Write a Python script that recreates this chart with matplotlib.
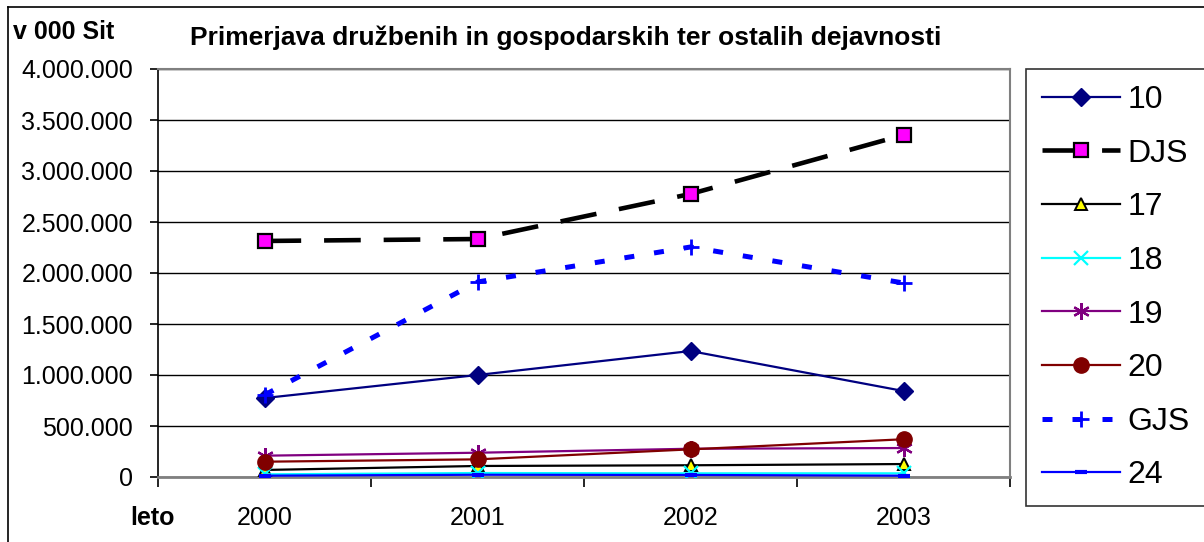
import matplotlib
matplotlib.use("Agg")
import matplotlib.pyplot as plt
from matplotlib.ticker import FuncFormatter, FixedLocator
from matplotlib.lines import Line2D

plt.rcParams['font.family'] = ['Liberation Sans', 'DejaVu Sans']

# data (v 000 Sit)
years = ['2000', '2001', '2002', '2003']
s10 = [774000, 1000000, 1235000, 843000]
djs = [2314000, 2333000, 2775000, 3353000]
s17 = [69000, 108000, 115000, 127000]
s18 = [26000, 39000, 36000, 36000]
s19 = [209000, 238000, 277000, 284000]
s20 = [150000, 173000, 271000, 370000]
gjs = [804000, 1912000, 2255000, 1902000]
s24 = [13000, 22000, 20000, 13000]

W, H = 1204, 542
fig = plt.figure(figsize=(W / 100, H / 100), dpi=100)
ax = fig.add_axes([158 / W, 1 - 477 / H, (1010 - 158) / W, (477 - 69) / H])

x = range(len(years))

ax.plot(x, s10, color='#000080', lw=1.6, marker='D', ms=9, mfc='#000080', mec='#000080', label='10', zorder=3)
ax.plot(x, djs, color='black', lw=3.3, dashes=(8, 5), marker='s', ms=10, mfc='#FF00FF', mec='black', mew=1.6, label='DJS', zorder=3)
ax.plot(x, s17, color='black', lw=1.6, marker='^', ms=9, mfc='#FFFF00', mec='black', mew=1.4, label='17', zorder=3)
ax.plot(x, s18, color='#00FFFF', lw=1.6, marker='x', ms=10, mec='#00FFFF', mew=1.6, label='18', zorder=3)
ax.plot(x, s19, color='#800080', lw=1.6, marker=(6, 2, 0), ms=12, mec='#800080', mew=1.6, label='19', zorder=3)
ax.plot(x, s20, color='#800000', lw=1.6, marker='o', ms=11, mfc='#800000', mec='#800000', label='20', zorder=3)
ax.plot(x, gjs, color='#0000FF', lw=3.6, dashes=(2, 4), marker='+', ms=12, mec='#0000FF', mew=2, label='GJS', zorder=3)
ax.plot(x, s24, color='#0000FF', lw=1.6, marker='_', ms=8, mec='#0000FF', mew=3, label='24', zorder=3)

ax.set_xlim(-0.5, 3.5)
ax.set_ylim(0, 4000000)
ax.set_yticks(range(0, 4000001, 500000))
ax.yaxis.set_major_formatter(FuncFormatter(lambda v, p: f"{int(v):,}".replace(',', '.')))
ax.yaxis.grid(True, color='black', lw=1)
ax.set_axisbelow(True)

ax.xaxis.set_major_locator(FixedLocator([-0.5, 0.5, 1.5, 2.5, 3.5]))
ax.xaxis.set_minor_locator(FixedLocator(list(x)))
ax.set_xticklabels([])
ax.set_xticklabels(years, minor=True)
ax.tick_params(axis='x', which='major', direction='out', length=7, width=1.2)
ax.tick_params(axis='x', which='minor', length=0, pad=21, labelsize=18)
ax.tick_params(axis='y', direction='out', length=6, width=1.2, pad=12, labelsize=18)

for side in ['top', 'right']:
    ax.spines[side].set_color('#808080')
    ax.spines[side].set_linewidth(1.5)
ax.spines['left'].set_color('black')
ax.spines['bottom'].set_color('#808080')
ax.spines['left'].set_linewidth(1.2)
ax.spines['bottom'].set_linewidth(2)

fig.text(566 / W, 1 - 38 / H, 'Primerjava družbenih in gospodarskih ter ostalih dejavnosti',
         ha='center', va='center', fontsize=19, fontweight='bold')
fig.text(13 / W, 1 - 32 / H, 'v 000 Sit', ha='left', va='center', fontsize=18, fontweight='bold')
fig.text(152 / W, 1 - 518 / H, 'leto', ha='center', va='center', fontsize=18, fontweight='bold')

leg = fig.legend(loc='upper left', bbox_to_anchor=(1026 / W, 1 - 69 / H), frameon=True, fancybox=False,
                 edgecolor='black', fontsize=23, handlelength=2.45, handletextpad=0.22,
                 labelspacing=0.74, borderpad=0.5, borderaxespad=0, numpoints=1)
leg.get_frame().set_linewidth(1.2)

# outer chart border (left and top edges visible)
fig.add_artist(Line2D([8 / W, 8 / W], [0, 1 - 7 / H], color='black', lw=1.2, transform=fig.transFigure))
fig.add_artist(Line2D([8 / W, 1], [1 - 7 / H, 1 - 7 / H], color='black', lw=1.2, transform=fig.transFigure))

fig.savefig('out.png', dpi=100)
